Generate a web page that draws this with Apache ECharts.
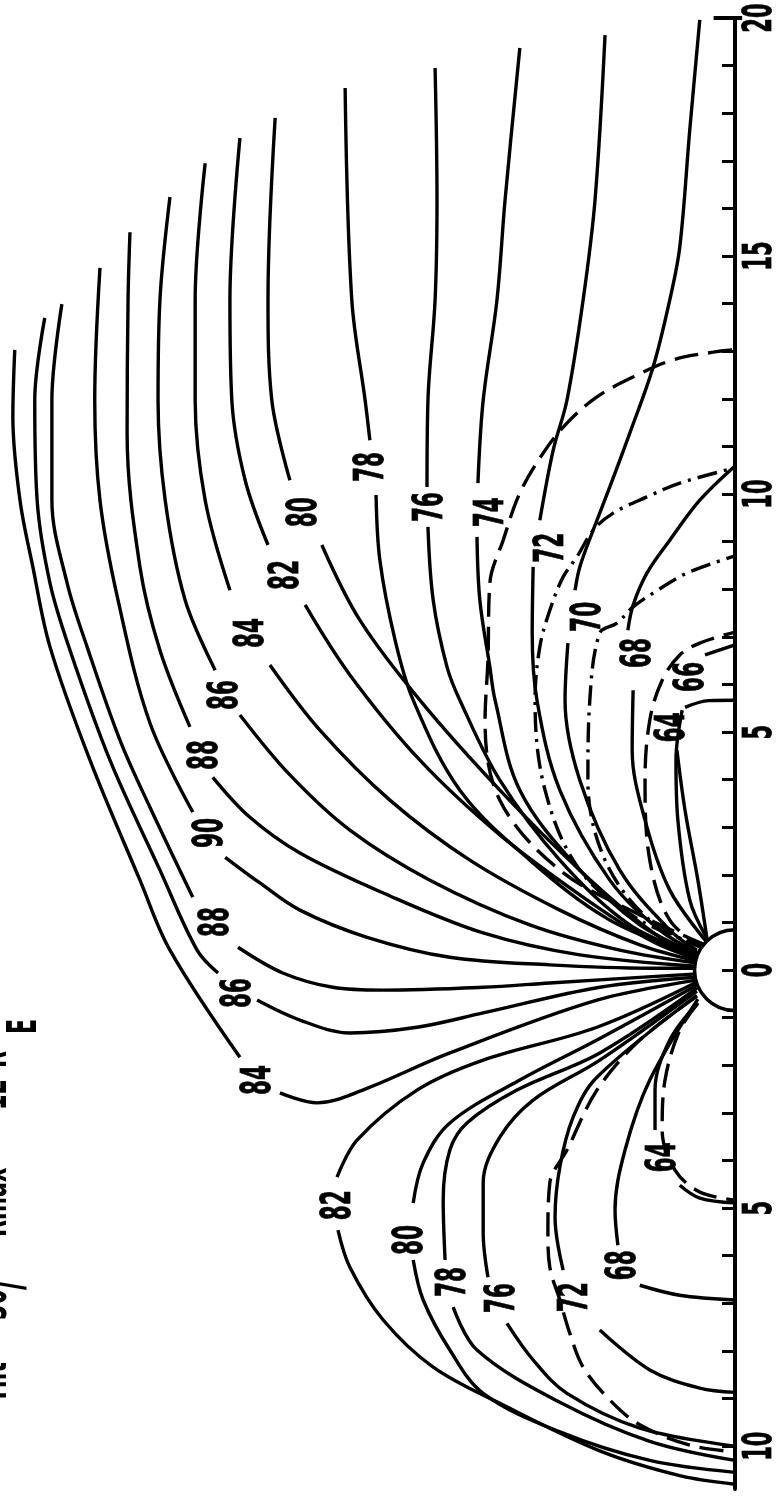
<!DOCTYPE html>
<html>
<head>
<meta charset="utf-8">
<script src="https://cdn.jsdelivr.net/npm/echarts@6/dist/echarts.min.js"></script>
<style>
  html, body { margin: 0; padding: 0; background: #fff; }
  #chart { width: 780px; height: 1497px; }
</style>
</head>
<body>
<div id="chart"></div>
<script>
// Magnetic field lines in the noon-midnight meridian plane.
// Every point is [z, x] in Earth radii: x runs along the Sun-Earth line
// (negative = sunward), z is the height above the equatorial plane.
// A null splits a line where its latitude label sits.

const axisTicks = [-10,-9,-8,-7,-6,-5,-4,-3,-2,-1,0,1,2,3,4,5,6,7,8,9,10,11,12,13,14,15,16,17,18,19,20];
const axisLabels = [-10, -5, 0, 5, 10, 15, 20];
const axisEnd = 20;
const earthRadius = 0.85;

// ---- night side, open lines ----
const line90 = [[13.34,14.75],[13.45,11.97],[13.34,9.87],[12.96,7.77],[12.29,5.19],[11.39,3.32],null,[10.71,2.37],[9.98,1.83],[9.14,1.26],[7.73,0.69],[5.99,0.27],[3.89,0.11],[1.79,0.04],[0.80,0.04]];
const line88n = [[12.71,15.50],[12.75,14.08],[12.77,11.28],[12.50,8.47],[12.08,6.72],[11.45,5.11],null,[10.97,4.05],[10.19,3.21],[9.14,2.46],[7.39,1.62],[5.29,0.78],[3.26,0.32],[0.80,0.08]];
const line86n = [[11.87,16.24],[12.08,14.08],[12.12,11.97],[11.97,9.87],[11.55,7.77],[10.92,6.30],null,[10.40,5.36],[9.35,4.10],[8.09,2.94],[6.41,1.89],[4.31,0.95],[2.42,0.42],[0.80,0.15]];
const line84n = [[11.13,16.95],[11.34,14.08],[11.34,11.97],[11.13,9.87],[10.61,7.98],null,[9.77,6.41],[8.72,5.04],[7.25,3.57],[5.57,2.31],[3.68,1.26],[2.00,0.53],[0.80,0.19]];
const line82n = [[10.40,17.48],[10.61,14.08],[10.57,11.97],[10.29,10.29],[9.81,8.93],null,[9.03,7.67],[8.09,6.20],[6.62,4.41],[4.94,2.84],[3.26,1.58],[1.79,0.63],[0.80,0.23]];
const line80n = [[9.66,17.90],[9.81,14.08],[9.73,11.97],[9.35,10.29],null,[8.68,8.93],[7.88,7.35],[6.62,5.67],[4.94,3.78],[3.26,2.10],[1.79,0.84],[0.80,0.25]];
const line78n = [[8.19,18.53],[8.05,14.08],[7.77,11.97],[7.67,11.13],null,[7.54,9.98],[7.46,8.61],[7.14,6.93],[6.76,5.67],[5.78,3.78],[4.31,2.31],[2.63,1.05],[0.80,0.29]];
const line76n = [[6.30,18.95],[6.26,16.18],[6.30,14.08],[6.45,11.97],[6.47,10.15],null,[6.45,9.31],[6.34,7.77],[6.05,6.37],[5.78,5.67],[4.94,3.99],[3.68,2.31],[2.21,0.95],[0.80,0.32]];
const line74n = [[4.52,19.37],[4.83,16.18],[5.00,14.08],[5.29,11.97],[5.40,10.23],null,[5.42,9.10],[5.36,7.77],[5.15,6.37],[5.04,5.67],[4.52,3.78],[3.26,2.10],[2.00,0.95],[0.80,0.34]];
const line72n = [[2.73,19.64],[2.94,16.18],[3.19,14.08],[3.53,11.97],[3.82,10.92],[4.10,9.45],null,[4.24,8.47],[4.26,7.08],[4.16,5.67],[3.68,3.78],[2.63,1.89],[1.58,0.84],[0.80,0.38]];
const line70n = [[0.74,19.96],[0.95,17.65],[1.16,15.19],[1.37,14.08],[1.72,12.67],[2.21,11.28],[2.63,10.15],[2.98,9.24],[3.26,8.47],[3.36,7.98],null,[3.51,6.87],[3.57,5.67],[3.26,3.99],[2.42,2.10],[1.37,0.84],[0.80,0.42]];

// ---- night side, closed lines ----
const line68n = [[0.61,0.61],[1.37,1.68],[1.89,3.15],[2.16,4.62],[2.14,5.88],null,[2.25,7.14],[2.14,7.67],[1.85,8.34],[1.37,9.03],[0.74,9.87],[0,10.59]];
const line66n = [[0.59,0.67],[0.95,1.47],[1.20,3.15],[1.24,4.41],[1.11,5.46],null,[0.63,6.62],[0,6.83]];
const line64n = [[0.57,0.53],[0.78,1.89],[1.05,3.36],[1.22,4.62],null,[1.05,5.52],[0.55,5.66],[0,5.67]];

// ---- day side, lines swept over the pole ----
const line84d = [[15.13,13.03],[15.17,11.62],[15.02,9.87],[14.75,8.47],[14.39,6.79],[13.55,4.41],[12.50,1.89],[11.87,0.42],[10.40,-1.83],null,[9.56,-2.58],[8.78,-2.79],[7.82,-2.52],[5.99,-1.74],[2.90,-0.63],[0.80,-0.21]];
const line86d = [[14.50,13.70],[14.71,11.97],[14.66,9.87],[14.39,8.13],[13.97,6.72],[13.13,4.41],[12.08,2.10],[11.30,0.42],[10.86,-0.06],null,[10.04,-0.63],[9.14,-1.05],[8.09,-1.32],[6.68,-1.20],[5.29,-0.90],[2.84,-0.36],[0.80,-0.15]];
const line88d = [[14.14,13.99],[14.35,11.97],[14.35,9.87],[14.03,8.13],[13.61,6.79],[12.92,4.83],[12.29,3.42],[11.39,1.53],null,[10.44,0.48],[9.50,-0.06],[8.45,-0.36],[7.39,-0.42],[5.29,-0.36],[3.89,-0.27],[0.80,-0.08]];

// ---- day side, closed lines ----
const line82d = [[0.80,-0.25],[2.90,-1.20],[5.29,-1.89],[6.68,-2.52],[7.94,-3.57],[8.36,-4.35],null,[8.34,-5.46],[8.09,-6.24],[7.39,-7.35],[6.34,-8.34],[4.94,-9.10],[2.84,-10.10],[1.16,-10.62],[0,-10.80]];
const line80d = [[0.80,-0.32],[2.90,-1.47],[4.52,-2.31],[5.99,-3.21],[6.55,-4.05],[6.76,-4.89],null,[6.76,-6.09],[6.55,-6.93],[5.99,-7.98],[5.29,-8.89],[3.68,-9.70],[1.79,-10.30],[0,-10.55]];
const line78d = [[0.80,-0.38],[2.84,-1.74],[4.58,-2.52],[5.63,-3.21],[5.99,-3.78],[6.13,-4.83],[6.09,-6.09],null,[5.92,-7.08],[5.42,-7.98],[3.68,-9.08],[1.79,-9.90],[0,-10.30]];
const line76d = [[0.80,-0.44],[2.84,-1.89],[4.24,-2.73],[4.94,-3.51],[5.29,-4.47],[5.29,-5.53],[5.19,-6.45],null,[4.79,-7.42],[4.24,-8.19],[3.53,-8.89],[2.00,-9.62],[0,-10.00]];
const line72d = [[0.80,-0.53],[2.90,-2.25],[3.40,-3.09],[3.68,-4.14],[3.78,-5.19],[3.61,-6.30],null,[2.84,-7.56],[1.79,-8.40],[0.74,-8.78],[0,-8.87]];
const line68d = [[0.78,-0.61],[1.79,-2.31],[2.31,-3.78],[2.52,-5.04],[2.46,-5.78],null,[2.00,-6.62],[1.16,-6.83],[0,-6.93]];
const line64d = [[0.78,-0.69],[1.37,-1.47],[1.68,-2.52],[1.68,-3.36],null,[1.16,-4.52],[0.74,-4.79],[0,-4.89]];

// ---- dashed comparison lines ----
const dash74n = [[0.63,0.53],[2.00,1.16],[3.68,2.10],[4.94,3.57],[5.25,5.25],[5.19,6.51],[5.15,8.13],[4.87,9.03],[4.52,10.02],[4.03,10.86],[3.53,11.49],[2.90,12.04],[2.14,12.46],[1.30,12.82],[0.46,12.98],[0,13.03]];
const dash72n = [[0.63,0.48],[2.00,1.05],[3.26,2.10],[3.99,3.78],[4.20,5.67],[4.10,6.79],[3.89,7.56],[3.61,8.26],[3.32,8.68],[2.98,9.24],[2.56,9.60],[1.85,9.94],[1.16,10.23],[0,10.55]];
const dash70n = [[0.61,0.44],[1.79,1.05],[2.73,2.31],[3.09,3.99],[3.05,5.67],[2.84,7.08],[2.48,7.29],[2.14,7.63],[1.72,7.92],[1.01,8.34],[0,8.70]];
const dash68n = [[0.59,0.40],[1.37,1.05],[1.79,2.31],[1.89,3.99],[1.79,5.25],[1.53,6.09],[1.16,6.62],[0.74,6.87],[0,7.10]];
const dash72d = [[0.80,-0.55],[2.00,-1.47],[2.90,-2.52],[3.53,-3.78],[3.89,-4.47],[3.93,-5.53],[3.89,-6.24],[3.68,-6.93],[3.47,-7.63],[3.19,-8.34],[2.63,-9.03],[2.00,-9.55],[0.95,-9.98],[0,-10.12]];
const dash64d = [[0.78,-0.70],[1.16,-1.26],[1.47,-2.31],[1.53,-3.36],[1.26,-4.20],[0.74,-4.66],[0,-4.83]];

// latitude labels: [z, x, text]
const fieldLabels = [
  [10.99, 2.88, '90'], [11.09, 4.52, '88'], [10.67, 5.78, '86'], [10.13, 7.08, '84'],
  [9.39, 8.30, '82'], [9.03, 9.62, '80'], [7.61, 10.57, '78'], [6.37, 9.73, '76'],
  [5.10, 9.62, '74'], [3.84, 8.87, '72'], [3.05, 7.42, '70'], [2.00, 6.66, '68'],
  [0.90, 6.16, '66'], [1.30, 5.10, '64'],
  [10.86, 1.01, '88'], [10.40, -0.48, '86'], [9.98, -2.31, '84'],
  [8.30, -4.94, '82'], [6.79, -5.67, '80'], [5.88, -6.55, '78'], [4.87, -6.89, '76'],
  [3.32, -6.87, '72'], [2.31, -6.20, '68'], [1.47, -3.93, '64']
];

// heading along the upper edge: [text, x, y, fontSize]
const headingParts = [
  ['Tilt =', -5, 1403, 41], ['30', -5, 1320, 41], ['/', 6, 1290, 56],
  ['Rmax =', -5, 1237, 41], ['12', -5, 1110, 41], ['R', -5, 1068, 41], ['E', 25, 1034, 41]
];

const solidLines = [line90, line88n, line86n, line84n, line82n, line80n, line78n, line76n, line74n, line72n, line70n,
  line68n, line66n, line64n, line84d, line86d, line88d, line82d, line80d, line78d, line76d, line72d, line68d, line64d];
const dashedLines = [dash74n, dash72d, dash64d, dash68n];
const dashDotLines = [dash72n, dash70n];

const labelFont = "'DejaVu Sans Condensed', 'DejaVu Sans', sans-serif";
const chart = echarts.init(document.getElementById('chart'), null, { renderer: 'canvas' });

function lineSeries(points, dash) {
  return {
    type: 'line',
    data: points.map(p => (p ? p : '-')),
    showSymbol: false,
    smooth: 0.35,
    connectNulls: false,
    silent: true,
    z: 2,
    lineStyle: { color: '#000', width: 3.4, type: dash || 'solid', cap: 'butt' }
  };
}

function textItem(p, text, size) {
  return {
    type: 'text',
    x: p[0], y: p[1],
    rotation: Math.PI / 2,
    scaleX: 0.6,
    style: { text: text, fontFamily: labelFont, fontWeight: 'bold', fontSize: size, fill: '#000',
      stroke: '#000', lineWidth: 0.8, align: 'center', verticalAlign: 'middle' }
  };
}

const series = [];
solidLines.forEach(l => series.push(lineSeries(l, null)));
dashedLines.forEach(l => series.push(lineSeries(l, [24, 10])));
dashDotLines.forEach(l => series.push(lineSeries(l, [20, 7, 3, 7])));

// Earth: half disc resting on the axis
series.push({
  type: 'custom', silent: true, z: 5,
  data: [[0, 0]],
  renderItem: (params, api) => {
    const c = api.coord([api.value(0), api.value(1)]);
    const r = api.size([earthRadius, earthRadius])[0];
    return { type: 'sector', shape: { cx: c[0], cy: c[1], r0: 0, r: r, startAngle: Math.PI / 2, endAngle: Math.PI * 1.5, clockwise: true },
      style: { fill: '#fff', stroke: '#000', lineWidth: 3.5 } };
  }
});

// cross bar closing the top end of the axis
series.push({
  type: 'custom', silent: true, z: 11,
  data: [[0, axisEnd]],
  renderItem: (params, api) => {
    const a = api.coord([0.45, api.value(1)]);
    const b = api.coord([-0.15, api.value(1)]);
    return { type: 'line', shape: { x1: a[0], y1: a[1], x2: b[0], y2: b[1] }, style: { stroke: '#000', lineWidth: 4 } };
  }
});

// latitude labels
series.push({
  type: 'custom', silent: true, z: 6,
  data: fieldLabels.map(l => [l[0], l[1]]),
  renderItem: (params, api) => textItem(api.coord([api.value(0), api.value(1)]), fieldLabels[params.dataIndex][2], 40)
});

// distance labels beside the axis
series.push({
  type: 'custom', silent: true, z: 6,
  data: axisLabels.map(v => [-0.55, v]),
  renderItem: (params, api) => textItem(api.coord([api.value(0), api.value(1)]), String(Math.abs(axisLabels[params.dataIndex])), 39)
});

chart.setOption({
  animation: false,
  backgroundColor: '#fff',
  grid: { left: 0, right: 45, top: 18, bottom: 8 },
  xAxis: { type: 'value', min: 0, max: 15.44, inverse: true, show: false },
  yAxis: {
    type: 'value', min: -10.9, max: 20, position: 'right', z: 10,
    axisLine: { show: true, lineStyle: { color: '#000', width: 4 } },
    axisTick: { show: true, inside: true, length: 13, customValues: axisTicks, lineStyle: { color: '#000', width: 3 } },
    axisLabel: { show: false },
    splitLine: { show: false }
  },
  graphic: headingParts.map(h => ({
    type: 'text', x: h[1], y: h[2], rotation: Math.PI / 2, scaleX: 0.6,
    style: { text: h[0], fontFamily: labelFont, fontWeight: 'bold', fontSize: h[3], fill: '#000', align: 'left', verticalAlign: 'middle' }
  })),
  series: series
});
</script>
</body>
</html>
